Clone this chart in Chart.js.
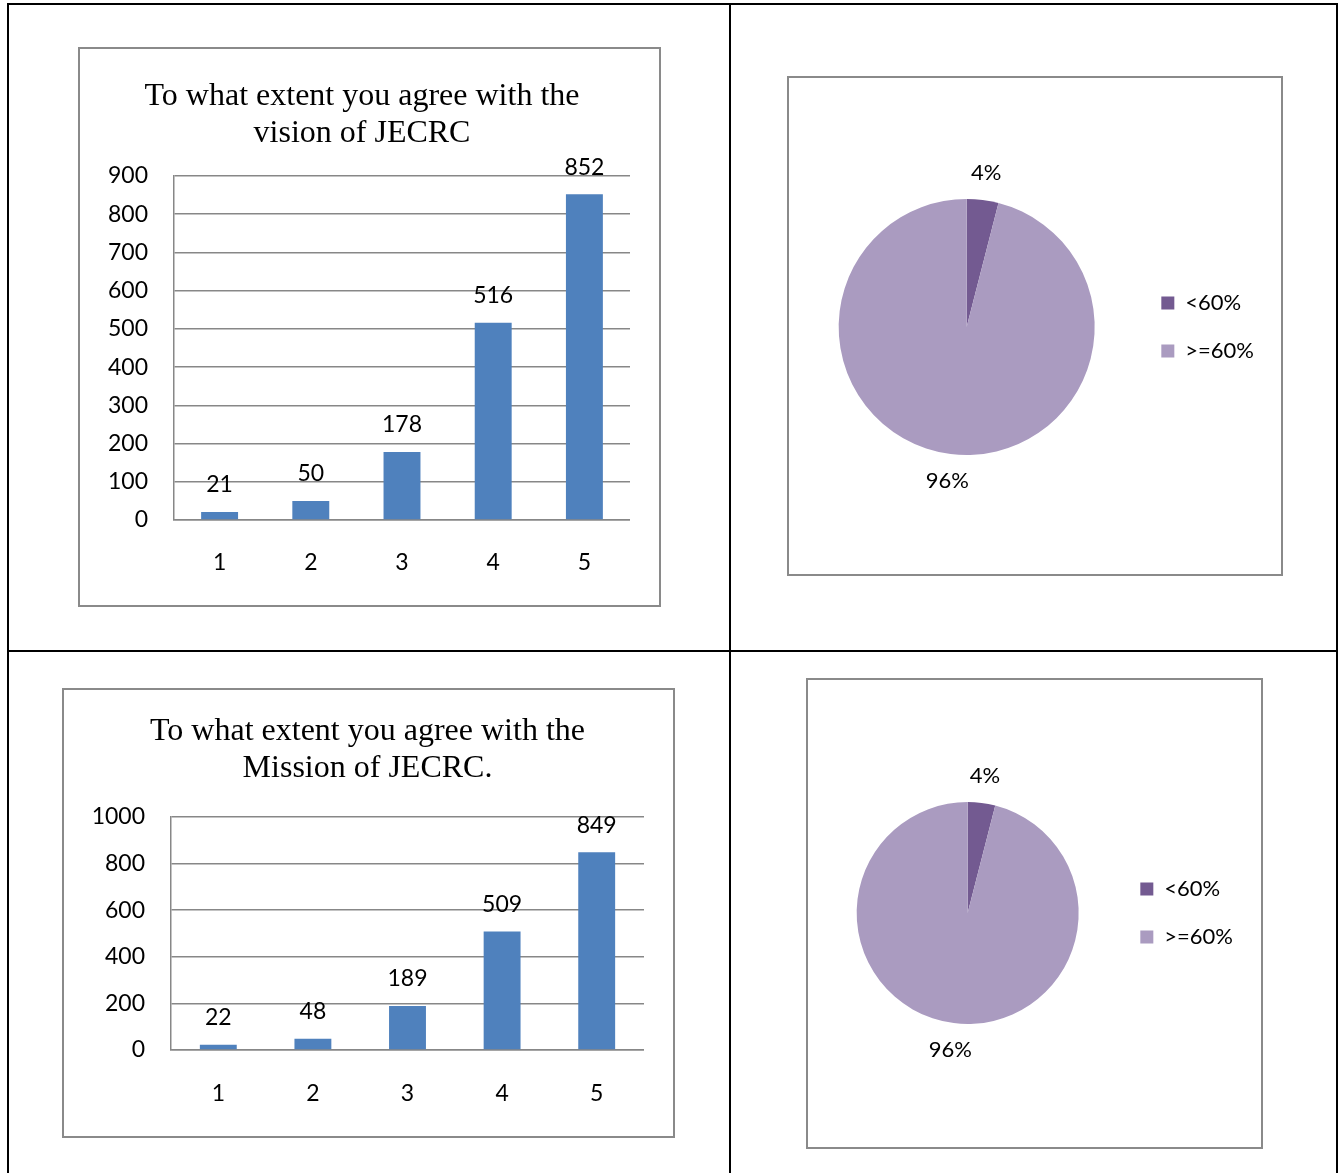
<!DOCTYPE html>
<html>
<head>
<meta charset="utf-8">
<script src="https://cdn.jsdelivr.net/npm/chart.js@4.4.0/dist/chart.umd.min.js"></script>
<style>
  body { margin: 0; background: #fff; width: 1340px; height: 1173px; overflow: hidden; position: relative; }
  .line { position: absolute; background: #000; }
  .box { position: absolute; box-sizing: border-box; border: 2px solid #8a8a8a; }
  canvas { position: absolute; }
</style>
</head>
<body>
<!-- table rules -->
<div class="line" style="left:7px;top:3px;width:1331px;height:2px"></div>
<div class="line" style="left:7px;top:650px;width:1331px;height:2px"></div>
<div class="line" style="left:7px;top:3px;width:2px;height:1170px"></div>
<div class="line" style="left:729px;top:3px;width:2px;height:1170px"></div>
<div class="line" style="left:1336px;top:3px;width:2px;height:1170px"></div>

<!-- chart frames -->
<div class="box" style="left:78px;top:47px;width:583px;height:560px"></div>
<div class="box" style="left:787px;top:76px;width:496px;height:500px"></div>
<div class="box" style="left:62px;top:688px;width:613px;height:450px"></div>
<div class="box" style="left:806px;top:678px;width:457px;height:471px"></div>

<canvas id="visionBar" width="536" height="556" style="left:94px;top:48px"></canvas>
<canvas id="visionPie" width="491" height="496" style="left:789px;top:78px"></canvas>
<canvas id="missionBar" width="553" height="446" style="left:91px;top:690px"></canvas>
<canvas id="missionPie" width="453" height="467" style="left:808px;top:680px"></canvas>

<script>
// ---- data ----
var ratingLabels   = ["1", "2", "3", "4", "5"];
var visionCounts   = [21, 50, 178, 516, 852];
var missionCounts  = [22, 48, 189, 509, 849];
var shareLabels    = ["<60%", ">=60%"];
var visionShare    = [4, 96];
var missionShare   = [4, 96];
var shareText      = ["4%", "96%"];

var barBlue   = "#4F81BD";
var gridGrey  = "#878787";
var purpleDk  = "#735A91";
var purpleLt  = "#AA9BC0";
var tickFont  = "Lato";

// value labels above bars
var barValueLabels = {
  id: "barValueLabels",
  afterDatasetsDraw: function (chart) {
    var ctx = chart.ctx;
    var meta = chart.getDatasetMeta(0);
    var vals = chart.data.datasets[0].data;
    ctx.save();
    ctx.font = "23px " + tickFont;
    ctx.fillStyle = "#000";
    ctx.textAlign = "center";
    ctx.textBaseline = "middle";
    meta.data.forEach(function (bar, i) {
      ctx.fillText(vals[i], bar.x, bar.y - 27);
    });
    ctx.restore();
  }
};

// percentage labels outside the pie
var pieOutsideLabels = {
  id: "pieOutsideLabels",
  afterDatasetsDraw: function (chart) {
    var ctx = chart.ctx;
    var meta = chart.getDatasetMeta(0);
    ctx.save();
    ctx.font = "22px " + tickFont;
    ctx.fillStyle = "#000";
    ctx.textAlign = "center";
    ctx.textBaseline = "middle";
    meta.data.forEach(function (arc, i) {
      var mid = (arc.startAngle + arc.endAngle) / 2;
      var r = arc.outerRadius + 27;
      ctx.fillText(shareText[i], arc.x + Math.cos(mid) * r, arc.y + Math.sin(mid) * r);
    });
    ctx.restore();
  }
};

function barChart(id, title, values, yMax, yStep, cfg) {
  return new Chart(document.getElementById(id), {
    type: "bar",
    data: {
      labels: ratingLabels,
      datasets: [{
        data: values,
        backgroundColor: barBlue,
        barPercentage: cfg.barPct,
        categoryPercentage: 1
      }]
    },
    options: {
      responsive: false,
      animation: false,
      layout: { padding: 0 },
      plugins: {
        legend: { display: false },
        tooltip: { enabled: false },
        title: {
          display: true,
          text: title,
          color: "#000",
          font: { family: "Liberation Serif", size: 32, weight: "normal", lineHeight: "37px" },
          padding: { top: cfg.titleTop, bottom: cfg.titleBottom }
        }
      },
      scales: {
        y: {
          min: 0,
          max: yMax,
          afterFit: function (scale) { scale.width = cfg.yWidth; },
          grid: { color: gridGrey, lineWidth: 1.5, drawTicks: false },
          border: { display: true, color: gridGrey, width: 1.5 },
          ticks: {
            stepSize: yStep,
            padding: 26,
            color: "#000",
            font: { family: tickFont, size: 23 },
            callback: function (v) { return String(v); }
          }
        },
        x: {
          afterFit: function (scale) { scale.height = cfg.xHeight; },
          grid: { display: false, drawTicks: false },
          border: { display: true, color: gridGrey, width: 1.5 },
          ticks: { padding: cfg.xPad, color: "#000", font: { family: tickFont, size: 23 } }
        }
      }
    },
    plugins: [barValueLabels]
  });
}

function pieChart(id, values, pad) {
  return new Chart(document.getElementById(id), {
    type: "pie",
    data: {
      labels: shareLabels,
      datasets: [{
        data: values,
        backgroundColor: [purpleDk, purpleLt],
        borderWidth: 0
      }]
    },
    options: {
      responsive: false,
      animation: false,
      layout: { padding: pad },
      plugins: {
        tooltip: { enabled: false },
        legend: {
          position: "right",
          labels: {
            boxWidth: 13,
            boxHeight: 13,
            padding: 26,
            color: "#000",
            font: { family: tickFont, size: 22 }
          }
        }
      }
    },
    plugins: [pieOutsideLabels]
  });
}

barChart("visionBar", ["To what extent you agree with the", "vision of JECRC"], visionCounts, 900, 100,
  { barPct: 0.405, titleTop: 30.5, titleBottom: 23.5, yWidth: 80, xHeight: 84, xPad: 29 });

barChart("missionBar", ["To what extent you agree with the", "Mission of JECRC."], missionCounts, 1000, 200,
  { barPct: 0.39, titleTop: 23, titleBottom: 30, yWidth: 80, xHeight: 86, xPad: 30 });

pieChart("visionPie", visionShare, { left: 9, right: 16, top: 121, bottom: 119 });
pieChart("missionPie", missionShare, { left: 13, right: 18, top: 122, bottom: 123 });
</script>
</body>
</html>
